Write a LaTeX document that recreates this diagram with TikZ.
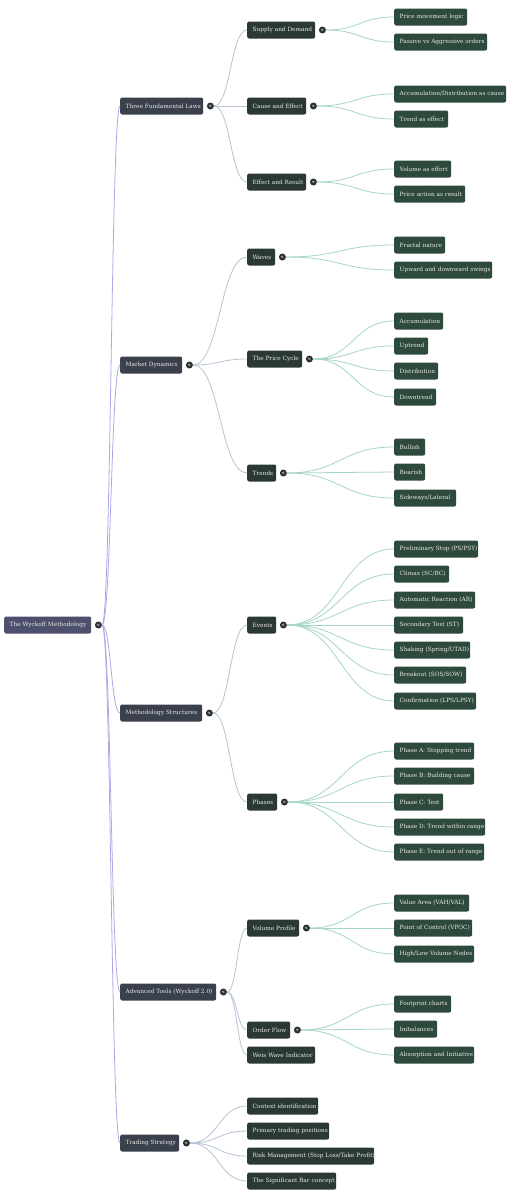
\documentclass[tikz,border=0pt]{standalone}
\usepackage{fontspec}
\setmainfont{DejaVu Serif}
\usetikzlibrary{calc}
\definecolor{rootc}{HTML}{4D506C}
\definecolor{lonec}{HTML}{3A404C}
\definecolor{ltwoc}{HTML}{2B3934}
\definecolor{leafc}{HTML}{2E4A3C}
\definecolor{dotc}{HTML}{2B3034}
\definecolor{txtc}{HTML}{E8E8E8}
\definecolor{cone}{HTML}{A9A8E8}
\definecolor{ctwo}{HTML}{B7C4D8}
\definecolor{cthree}{HTML}{A6D6C6}
\tikzset{
  mmbox/.style={anchor=west, rounded corners=2pt, inner sep=0pt, minimum height=17pt},
  mmtext/.style={anchor=west, text=txtc, inner sep=0pt, font=\fontsize{5.8}{7}\selectfont},
  rootbox/.style={mmbox, fill=rootc},
  onebox/.style={mmbox, fill=lonec},
  twobox/.style={mmbox, fill=ltwoc},
  leafbox/.style={mmbox, fill=leafc},
  dotnode/.style={circle, fill=dotc, minimum size=7pt, inner sep=0pt, text=white,
    font=\fontsize{4}{4}\selectfont\bfseries},
  linkone/.style={draw=cone, line width=0.8pt},
  linktwo/.style={draw=ctwo, line width=0.8pt},
  linkthree/.style={draw=cthree, line width=0.8pt},
}
\newcommand\mm[6]{%
  \node[#1, minimum width=#5pt] (#2) at (#3,#4) {};
  \begin{scope}
    \clip (#2.south west) rectangle ([xshift=-0.5pt]#2.north east);
    \node[mmtext] (#2-t) at ([xshift=5.5pt]#2.west) {#6};
  \end{scope}}
\newcommand\mmdot[1]{\node[dotnode] (#1-d) at ([xshift=7pt]#1.east) {<};}
\newcommand\conn[3]{\draw[#1] let \p1=(#2-d.east), \p2=(#3.west) in (#2-d.east) .. controls ({(\x1+\x2)/2},\y1) and ({(\x1+\x2)/2},\y2) .. (#3.west);}
\begin{document}
\begin{tikzpicture}[x=1pt,y=-1pt]
\useasboundingbox[fill=white] (0,0) rectangle (521,1200);
% root
\mm{rootbox}{root}{4}{625}{87}{The Wyckoff Methodology}
% level 1
\mm{onebox}{tfl}{120}{106}{83}{Three Fundamental Laws}
\mm{onebox}{md}{120}{365}{62}{Market Dynamics}
\mm{onebox}{ms}{120}{713}{82}{Methodology Structures}
\mm{onebox}{at}{120}{992}{96}{Advanced Tools (Wyckoff 2.0)}
\mm{onebox}{ts}{120}{1143}{59}{Trading Strategy}
% level 2
\mm{twobox}{sd}{247}{30}{68}{Supply and Demand}
\mm{twobox}{ce}{247}{106}{59}{Cause and Effect}
\mm{twobox}{er}{247}{182}{59}{Effect and Result}
\mm{twobox}{wv}{247}{257}{28}{Waves}
\mm{twobox}{pc}{247}{359}{55}{The Price Cycle}
\mm{twobox}{tr}{247}{473}{29}{Trends}
\mm{twobox}{ev}{247}{625}{29}{Events}
\mm{twobox}{ph}{247}{802}{30}{Phases}
\mm{twobox}{vp}{247}{928}{52}{Volume Profile}
\mm{twobox}{of}{247}{1030}{43}{Order Flow}
\mm{twobox}{ww}{247}{1055}{68}{Weis Wave Indicator}
\mm{twobox}{ci}{247}{1106}{71}{Context identification}
\mm{twobox}{ptp}{247}{1131}{82}{Primary trading positions}
\mm{twobox}{rm}{247}{1156}{127}{Risk Management (Stop Loss/Take Profit)}
\mm{twobox}{sb}{247}{1181}{89}{The Significant Bar concept}
% leaves
\mm{leafbox}{pml}{394}{17}{73}{Price movement logic}
\mm{leafbox}{pva}{394}{42}{93}{Passive vs Aggressive orders}
\mm{leafbox}{adc}{394}{94}{112}{Accumulation/Distribution as cause}
\mm{leafbox}{tae}{394}{119}{54}{Trend as effect}
\mm{leafbox}{vae}{394}{169}{57}{Volume as effort}
\mm{leafbox}{par}{394}{194}{71}{Price action as result}
\mm{leafbox}{fn}{394}{245}{51}{Fractal nature}
\mm{leafbox}{uds}{394}{270}{98}{Upward and downward swings}
\mm{leafbox}{acc}{394}{321}{49}{Accumulation}
\mm{leafbox}{up}{394}{346}{34}{Uptrend}
\mm{leafbox}{dis}{394}{371}{44}{Distribution}
\mm{leafbox}{dt}{394}{397}{42}{Downtrend}
\mm{leafbox}{bu}{394}{447}{31}{Bullish}
\mm{leafbox}{be}{394}{472}{31}{Bearish}
\mm{leafbox}{sl}{394}{498}{62}{Sideways/Lateral}
\mm{leafbox}{ps}{394}{549}{84}{Preliminary Stop (PS/PSY)}
\mm{leafbox}{cl}{394}{574}{55}{Climax (SC/BC)}
\mm{leafbox}{ar}{394}{600}{81}{Automatic Reaction (AR)}
\mm{leafbox}{st}{394}{625}{69}{Secondary Test (ST)}
\mm{leafbox}{sh}{394}{650}{76}{Shaking (Spring/UTAD)}
\mm{leafbox}{br}{394}{675}{72}{Breakout (SOS/SOW)}
\mm{leafbox}{co}{394}{701}{82}{Confirmation (LPS/LPSY)}
\mm{leafbox}{pa}{394}{751}{80}{Phase A: Stopping trend}
\mm{leafbox}{pb}{394}{776}{80}{Phase B: Building cause}
\mm{leafbox}{pcc}{394}{802}{49}{Phase C: Test}
\mm{leafbox}{pd}{394}{827}{91}{Phase D: Trend within range}
\mm{leafbox}{pe}{394}{852}{90}{Phase E: Trend out of range}
\mm{leafbox}{va}{394}{903}{75}{Value Area (VAH/VAL)}
\mm{leafbox}{poc}{394}{928}{78}{Point of Control (VPOC)}
\mm{leafbox}{hl}{394}{954}{80}{High/Low Volume Nodes}
\mm{leafbox}{fc}{394}{1004}{57}{Footprint charts}
\mm{leafbox}{im}{394}{1029}{43}{Imbalances}
\mm{leafbox}{ai}{394}{1055}{80}{Absorption and Initiative}
% dots
\mmdot{root}
\mmdot{tfl}\mmdot{md}\mmdot{ms}\mmdot{at}\mmdot{ts}
\mmdot{sd}\mmdot{ce}\mmdot{er}\mmdot{wv}\mmdot{pc}\mmdot{tr}
\mmdot{ev}\mmdot{ph}\mmdot{vp}\mmdot{of}
% connectors
\foreach \t in {tfl,md,ms,at,ts} {\conn{linkone}{root}{\t}}
\foreach \t in {sd,ce,er} {\conn{linktwo}{tfl}{\t}}
\foreach \t in {wv,pc,tr} {\conn{linktwo}{md}{\t}}
\foreach \t in {ev,ph} {\conn{linktwo}{ms}{\t}}
\foreach \t in {vp,of,ww} {\conn{linktwo}{at}{\t}}
\foreach \t in {ci,ptp,rm,sb} {\conn{linktwo}{ts}{\t}}
\foreach \t in {pml,pva} {\conn{linkthree}{sd}{\t}}
\foreach \t in {adc,tae} {\conn{linkthree}{ce}{\t}}
\foreach \t in {vae,par} {\conn{linkthree}{er}{\t}}
\foreach \t in {fn,uds} {\conn{linkthree}{wv}{\t}}
\foreach \t in {acc,up,dis,dt} {\conn{linkthree}{pc}{\t}}
\foreach \t in {bu,be,sl} {\conn{linkthree}{tr}{\t}}
\foreach \t in {ps,cl,ar,st,sh,br,co} {\conn{linkthree}{ev}{\t}}
\foreach \t in {pa,pb,pcc,pd,pe} {\conn{linkthree}{ph}{\t}}
\foreach \t in {va,poc,hl} {\conn{linkthree}{vp}{\t}}
\foreach \t in {fc,im,ai} {\conn{linkthree}{of}{\t}}
\end{tikzpicture}
\end{document}
